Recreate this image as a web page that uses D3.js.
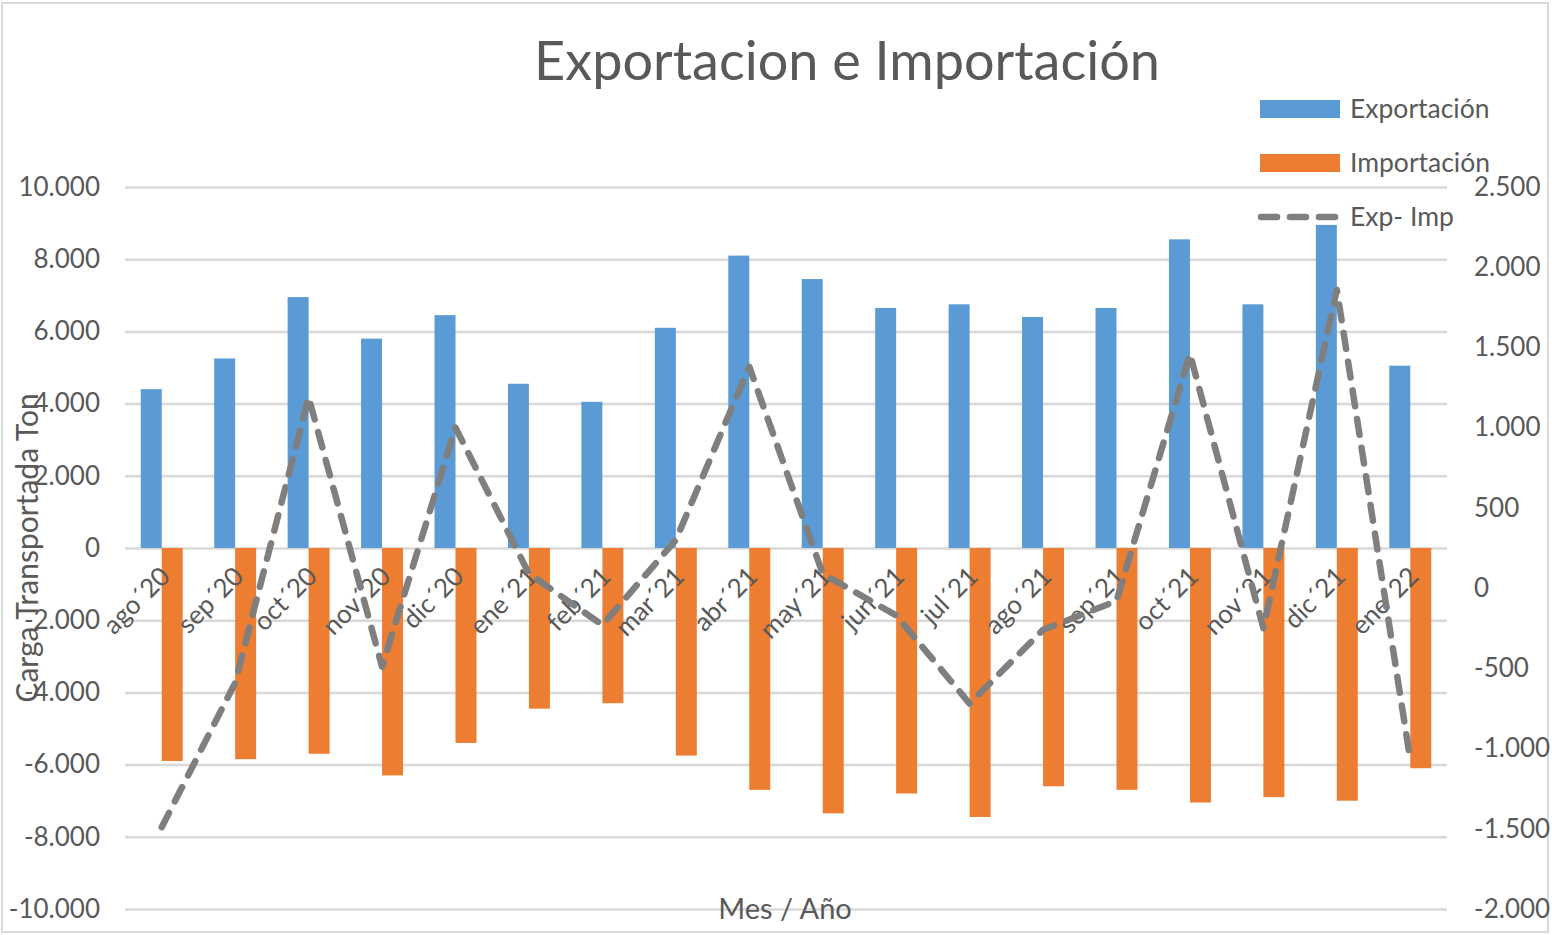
<!DOCTYPE html>
<html>
<head>
<meta charset="utf-8">
<script src="https://cdn.jsdelivr.net/npm/d3@7"></script>
<style>
  body { margin: 0; background: #fff; }
  svg text { font-family: Lato, "Open Sans", sans-serif; fill: #595959; }
</style>
</head>
<body>
<div id="chart"></div>
<script>
// Data
const months = ["ago´20", "sep´20", "oct´20", "nov´20", "dic´20", "ene´21", "feb´21", "mar´21", "abr´21",
  "may´21", "jun´21", "jul´21", "ago´21", "sep´21", "oct´21", "nov´21", "dic´21", "ene´22"];
const exportacion = [4400, 5250, 6950, 5800, 6450, 4550, 4050, 6100, 8100,
  7450, 6650, 6750, 6400, 6650, 8550, 6750, 8950, 5050];
const importacion = [-5900, -5850, -5700, -6300, -5400, -4450, -4300, -5750, -6700,
  -7350, -6800, -7450, -6600, -6700, -7050, -6900, -7000, -6100];
const expImp = [-1490, -590, 1190, -490, 1000, 90, -230, 300, 1380,
  90, -170, -720, -260, -80, 1460, -250, 1860, -1070];
const leftTicks = [-10000, -8000, -6000, -4000, -2000, 0, 2000, 4000, 6000, 8000, 10000];
const rightTicks = [-2000, -1500, -1000, -500, 0, 500, 1000, 1500, 2000, 2500];

var width = 1552, height = 935;
var plotLeft = 125, plotRight = 1447, plotTop = 187, plotBottom = 909;

var blue = "#5b9bd5", orange = "#ed7d31", grey = "#7f7f7f";

var locale = d3.formatLocale({decimal: ",", thousands: ".", grouping: [3], currency: ["", ""], minus: "-"});
var fmt = locale.format(",");

var svg = d3.select("#chart").append("svg")
  .attr("width", width)
  .attr("height", height);

// chart border
svg.append("rect")
  .attr("x", 2).attr("y", 3)
  .attr("width", 1546).attr("height", 929)
  .attr("fill", "#fff")
  .attr("stroke", "#d9d9d9")
  .attr("stroke-width", 2);

var x = d3.scaleBand().domain(months).range([plotLeft, plotRight]).padding(0);
var yL = d3.scaleLinear().domain([-10000, 10000]).range([plotBottom, plotTop]);
var yR = d3.scaleLinear().domain([-2000, 2500]).range([plotBottom, plotTop]);
var barW = x.bandwidth() / 3.5;

// gridlines + left axis
var left = svg.append("g")
  .attr("transform", "translate(" + plotLeft + ",0)")
  .call(d3.axisLeft(yL).tickValues(leftTicks).tickFormat(fmt)
    .tickSize(-(plotRight - plotLeft)).tickPadding(25));
left.select(".domain").remove();
left.selectAll(".tick line").attr("stroke", "#d9d9d9").attr("stroke-width", 2.5);
left.selectAll(".tick text").style("font-size", "26px").attr("fill", "#595959");

// right axis
var right = svg.append("g")
  .attr("transform", "translate(" + plotRight + ",0)")
  .call(d3.axisRight(yR).tickValues(rightTicks).tickFormat(fmt).tickSize(0).tickPadding(27));
right.select(".domain").remove();
right.selectAll(".tick text").style("font-size", "26px").attr("fill", "#595959");

// bars
svg.append("g").selectAll("rect")
  .data(exportacion)
  .join("rect")
  .attr("x", (d, i) => x(months[i]) + x.bandwidth() / 2 - barW)
  .attr("y", d => yL(d))
  .attr("width", barW)
  .attr("height", d => yL(0) - yL(d))
  .attr("fill", blue);

svg.append("g").selectAll("rect")
  .data(importacion)
  .join("rect")
  .attr("x", (d, i) => x(months[i]) + x.bandwidth() / 2)
  .attr("y", yL(0))
  .attr("width", barW)
  .attr("height", d => yL(d) - yL(0))
  .attr("fill", orange);

// category labels, rotated
svg.append("g").selectAll("text")
  .data(months)
  .join("text")
  .attr("transform", d => "translate(" + (x(d) + x.bandwidth() / 2 + 10) + ",578) rotate(-45)")
  .attr("text-anchor", "end")
  .style("font-size", "26px")
  .text(d => d);

// Exp - Imp line
var line = d3.line()
  .x((d, i) => x(months[i]) + x.bandwidth() / 2)
  .y(d => yR(d));

svg.append("path")
  .datum(expImp)
  .attr("d", line)
  .attr("fill", "none")
  .attr("stroke", grey)
  .attr("stroke-width", 6.5)
  .attr("stroke-dasharray", "16,13")
  .attr("stroke-linecap", "round")
  .attr("stroke-linejoin", "round");

// title
svg.append("text")
  .attr("x", 847).attr("y", 80)
  .attr("text-anchor", "middle")
  .style("font-size", "54px")
  .text("Exportacion e Importación");

// axis titles
svg.append("text")
  .attr("transform", "translate(38,548) rotate(-90)")
  .attr("text-anchor", "middle")
  .style("font-size", "30px")
  .text("Carga Transportada Ton");

svg.append("text")
  .attr("x", 785).attr("y", 919)
  .attr("text-anchor", "middle")
  .style("font-size", "29px")
  .text("Mes / Año");

// legend
var legend = svg.append("g");
var items = [
  {name: "Exportación", color: blue, type: "rect", y: 109},
  {name: "Importación", color: orange, type: "rect", y: 163},
  {name: "Exp- Imp", color: grey, type: "line", y: 217}
];
items.forEach(function(it) {
  if (it.type == "rect") {
    legend.append("rect")
      .attr("x", 1260).attr("y", it.y - 9)
      .attr("width", 80).attr("height", 18)
      .attr("fill", it.color);
  } else {
    legend.append("line")
      .attr("x1", 1261).attr("x2", 1339)
      .attr("y1", it.y).attr("y2", it.y)
      .attr("stroke", it.color)
      .attr("stroke-width", 6.5)
      .attr("stroke-dasharray", "16,13")
      .attr("stroke-linecap", "round");
  }
  legend.append("text")
    .attr("x", 1350).attr("y", it.y + 9)
    .style("font-size", "26.5px")
    .text(it.name);
});
</script>
</body>
</html>
